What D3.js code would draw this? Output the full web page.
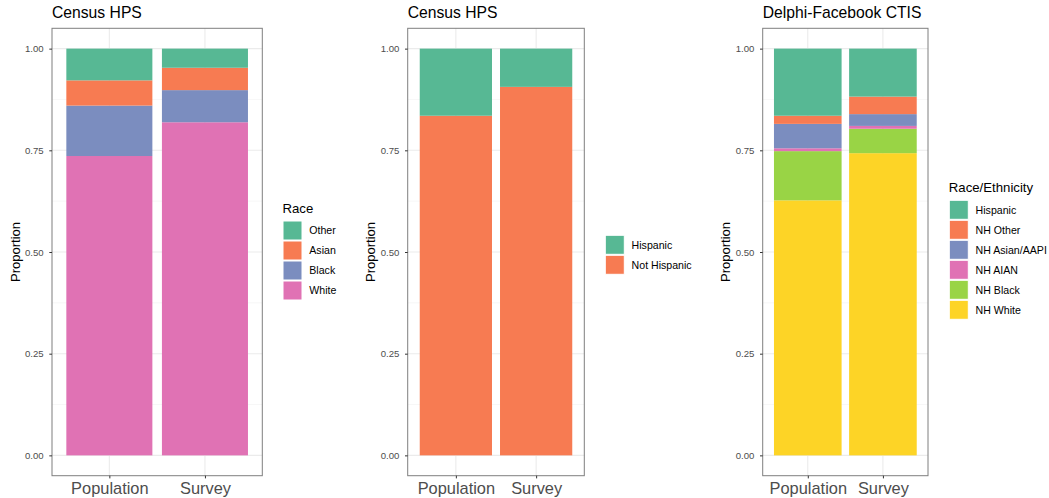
<!DOCTYPE html>
<html><head><meta charset="utf-8">
<script src="https://cdn.jsdelivr.net/npm/d3@7"></script>
<style>
body{margin:0;background:#fff;}
svg{display:block;font-family:"Liberation Sans",Arial,Helvetica,sans-serif;}
</style></head>
<body>
<svg id="chart" width="1049" height="498"></svg>
<script>
// ---- data ----
const groups = ["Population", "Survey"];
const yTicks = [0, 0.25, 0.5, 0.75, 1.0];

// Panel 1: Census HPS, race (stack order bottom->top: White, Black, Asian, Other)
const raceKeys = ["Other", "Asian", "Black", "White"];
const raceWhite = [0.736, 0.819];
const raceBlack = [0.124, 0.079];
const raceAsian = [0.062, 0.055];
const raceOther = [0.078, 0.047];

// Panel 2: Census HPS, hispanic
const hispKeys = ["Hispanic", "Not Hispanic"];
const hispNot = [0.835, 0.906];
const hispYes = [0.165, 0.094];

// Panel 3: Delphi-Facebook CTIS
const ethKeys = ["Hispanic", "NH Other", "NH Asian/AAPI", "NH AIAN", "NH Black", "NH White"];
const ethWhite = [0.627, 0.743];
const ethBlack = [0.121, 0.060];
const ethAIAN = [0.007, 0.007];
const ethAsian = [0.060, 0.029];
const ethOther = [0.020, 0.043];
const ethHispanic = [0.165, 0.118];

const set2 = ["#57B894", "#F77B52", "#7B8DBF", "#E072B4", "#99D445", "#FDD426"];

// ---- drawing ----
const svg = d3.select("#chart");
const yTop = 28.3, yBot = 475.7;

function panel(opts) {
  const g = svg.append("g");
  // ggplot discrete expansion: range 0.4..2.6
  const xc = d3.scalePoint().domain(groups).range([opts.x0 + (opts.x1 - opts.x0) * 0.6 / 2.2, opts.x1 - (opts.x1 - opts.x0) * 0.6 / 2.2]);
  const unit = (opts.x1 - opts.x0) / 2.2;
  const bw = unit * 0.9;
  const y = d3.scaleLinear().domain([-0.05, 1.05]).range([yBot, yTop]);

  // grid
  const minor = [0.125, 0.375, 0.625, 0.875];
  g.selectAll(".mg").data(minor).join("line")
    .attr("x1", opts.x0).attr("x2", opts.x1)
    .attr("y1", d => y(d)).attr("y2", d => y(d))
    .attr("stroke", "#F2F2F2").attr("stroke-width", 0.6);
  g.selectAll(".Mg").data(yTicks).join("line")
    .attr("x1", opts.x0).attr("x2", opts.x1)
    .attr("y1", d => y(d)).attr("y2", d => y(d))
    .attr("stroke", "#EBEBEB").attr("stroke-width", 1.1);
  g.selectAll(".vg").data(groups).join("line")
    .attr("x1", d => xc(d)).attr("x2", d => xc(d))
    .attr("y1", yTop).attr("y2", yBot)
    .attr("stroke", "#EBEBEB").attr("stroke-width", 1.1);

  // stacks (bottom to top order)
  const stackKeys = opts.keys.slice().reverse();
  const rows = groups.map((gname, i) => {
    const r = {group: gname};
    opts.keys.forEach((k, j) => r[k] = opts.series[j][i]);
    return r;
  });
  const stacked = d3.stack().keys(stackKeys)(rows);
  stacked.forEach(layer => {
    const col = opts.colors[opts.keys.indexOf(layer.key)];
    g.selectAll(null).data(layer).join("rect")
      .attr("x", d => xc(d.data.group) - bw / 2)
      .attr("width", bw)
      .attr("y", d => y(d[1]))
      .attr("height", d => y(d[0]) - y(d[1]))
      .attr("fill", col);
  });

  // border
  g.append("rect").attr("x", opts.x0).attr("y", yTop)
    .attr("width", opts.x1 - opts.x0).attr("height", yBot - yTop)
    .attr("fill", "none").attr("stroke", "#7F7F7F").attr("stroke-width", 1);

  // y axis
  const yAxis = d3.axisLeft(y).tickValues(yTicks).tickFormat(d3.format(".2f")).tickSize(2.7).tickPadding(5.6);
  const ya = g.append("g").attr("transform", `translate(${opts.x0},0)`).call(yAxis);
  ya.select(".domain").remove();
  ya.selectAll(".tick line").attr("stroke", "#333").attr("stroke-width", 1);
  ya.selectAll(".tick text").attr("fill", "#4D4D4D").attr("font-size", "9.6px").attr("font-family", null);

  // x axis
  const xAxis = d3.axisBottom(xc).tickSize(2.7).tickPadding(2);
  const xa = g.append("g").attr("transform", `translate(0,${yBot})`).call(xAxis);
  xa.select(".domain").remove();
  xa.selectAll(".tick line").attr("stroke", "#333").attr("stroke-width", 1);
  xa.selectAll(".tick text").attr("fill", "#4D4D4D").attr("font-size", "16.4px").attr("font-family", null)
    .attr("dy", null).attr("y", 18.6);

  // title
  g.append("text").attr("x", opts.x0).attr("y", 18.3).attr("font-size", "15.7px").attr("fill", "#000").text(opts.title);

  // y title
  g.append("text").attr("transform", `translate(${opts.x0 - 32.5},${(yTop + yBot) / 2}) rotate(-90)`)
    .attr("text-anchor", "middle").attr("font-size", "13px").attr("fill", "#000").text("Proportion");

  // legend
  const L = g.append("g");
  let ly = opts.legendTop;
  if (opts.legendTitle) {
    L.append("text").attr("x", opts.legendX).attr("y", ly - 8).attr("font-size", "13.2px").attr("fill", "#000").text(opts.legendTitle);
  }
  opts.keys.forEach((k, i) => {
    const yy = ly + i * 20;
    L.append("rect").attr("x", opts.legendX + 0.5).attr("y", yy + 0.5).attr("width", 19).attr("height", 19)
      .attr("fill", opts.colors[i]).attr("stroke", "#fff").attr("stroke-width", 1);
    L.append("text").attr("x", opts.legendX + 26.8).attr("y", yy + 10).attr("dy", "0.35em")
      .attr("font-size", "10.6px").attr("fill", "#000").text(k);
  });
}

panel({
  x0: 52, x1: 262.3, title: "Census HPS",
  keys: raceKeys, series: [raceOther, raceAsian, raceBlack, raceWhite],
  colors: [set2[0], set2[1], set2[2], set2[3]],
  legendTitle: "Race", legendX: 282.5, legendTop: 220.5
});
panel({
  x0: 407.7, x1: 584.3, title: "Census HPS",
  keys: hispKeys, series: [hispYes, hispNot],
  colors: [set2[0], set2[1]],
  legendTitle: null, legendX: 604.8, legendTop: 234.8
});
panel({
  x0: 762.7, x1: 928, title: "Delphi-Facebook CTIS",
  keys: ethKeys, series: [ethHispanic, ethOther, ethAsian, ethAIAN, ethBlack, ethWhite],
  colors: set2,
  legendTitle: "Race/Ethnicity", legendX: 948.8, legendTop: 199.8
});
</script>
</body></html>
